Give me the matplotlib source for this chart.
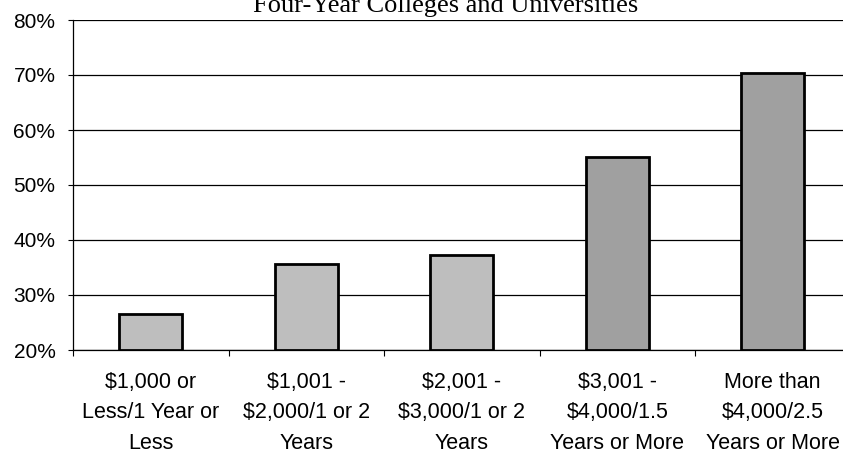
import matplotlib
matplotlib.use('Agg')
import matplotlib.pyplot as plt
import numpy as np

# share of students, four-year colleges and universities
categories = ['$1,000 or\nLess/1 Year or\nLess',
              '$1,001 -\n$2,000/1 or 2\nYears',
              '$2,001 -\n$3,000/1 or 2\nYears',
              '$3,001 -\n$4,000/1.5\nYears or More',
              'More than\n$4,000/2.5\nYears or More']
values = [26.6, 35.6, 37.2, 55.1, 70.4]
bar_colors = ['#bebebe', '#bebebe', '#bebebe', '#a0a0a0', '#a0a0a0']
yticks = [20, 30, 40, 50, 60, 70, 80]

plt.rcParams['text.parse_math'] = False
plt.rcParams['font.family'] = ['Liberation Sans', 'DejaVu Sans']

fig = plt.figure(figsize=(8.43, 4.53), dpi=100)
ax = fig.add_axes([73/843, 1 - 350/453, 777.5/843, 330/453])

x = np.arange(len(categories))
ax.bar(x, [v - 20 for v in values], bottom=20, width=0.405,
       color=bar_colors, edgecolor='black', linewidth=2, zorder=3)

ax.set_xlim(-0.5, len(categories) - 0.5)
ax.set_ylim(20, 80)
ax.set_yticks(yticks)
ax.set_yticklabels(['%d%%' % t for t in yticks], fontsize=15)
ax.yaxis.grid(True, color='black', linewidth=0.9)
ax.set_axisbelow(True)

ax.set_xticks(x)
ax.set_xticklabels(categories, fontsize=15.5, linespacing=1.6)
ax.set_xticks(np.arange(len(categories) + 1) - 0.5, minor=True)
ax.tick_params(axis='x', which='major', length=0, pad=15.5)
ax.tick_params(axis='x', which='minor', length=4, width=0.8, direction='out')
ax.tick_params(axis='y', length=3.6, width=0.8, pad=9)

for s in ['top', 'right']:
    ax.spines[s].set_visible(False)
ax.spines['left'].set_linewidth(0.9)
ax.spines['bottom'].set_linewidth(0.9)

fig.text(446/843, 1 - 12/453, 'Four-Year Colleges and Universities',
         ha='center', va='baseline', fontsize=19, family='Liberation Serif')

fig.savefig('out.png', dpi=100)
